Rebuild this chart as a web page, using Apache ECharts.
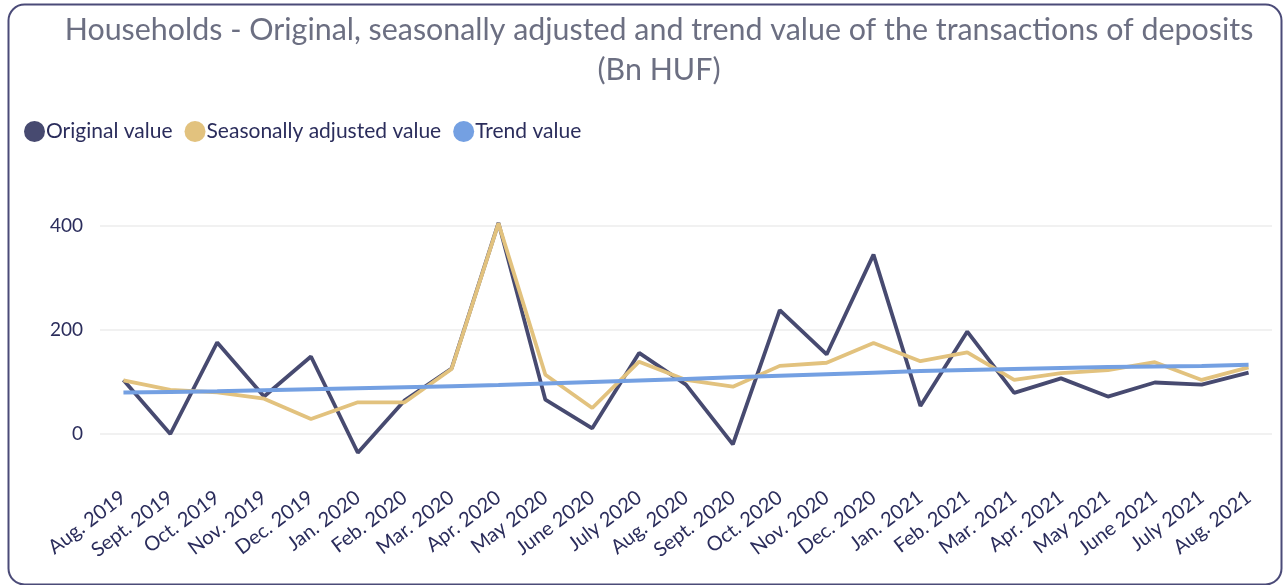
<!DOCTYPE html>
<html>
<head>
<meta charset="utf-8">
<script src="https://cdn.jsdelivr.net/npm/echarts@6/dist/echarts.min.js"></script>
<style>
html,body{margin:0;padding:0;background:#fff;}
#chart{width:1286px;height:585px;}
</style>
</head>
<body>
<div id="chart"></div>
<script>
const categories = ["Aug. 2019","Sept. 2019","Oct. 2019","Nov. 2019","Dec. 2019","Jan. 2020","Feb. 2020","Mar. 2020","Apr. 2020","May 2020","June 2020","July 2020","Aug. 2020","Sept. 2020","Oct. 2020","Nov. 2020","Dec. 2020","Jan. 2021","Feb. 2021","Mar. 2021","Apr. 2021","May 2021","June 2021","July 2021","Aug. 2021"];
const originalValue = [104, 0, 176, 72, 149, -36, 65, 126, 406, 66, 11, 156, 95, -20, 238, 153, 345, 54, 197, 79, 107, 72, 99, 95, 118];
const seasonallyAdjusted = [103, 85, 80, 68, 29, 61, 61, 125, 405, 114, 50, 139, 104, 91, 131, 137, 175, 140, 157, 104, 117, 123, 138, 104, 128];
const trendValue = [80, 81, 82, 84, 86, 88, 90, 92, 94, 97, 100, 103, 106, 109, 112, 115, 118, 121, 123, 125, 127, 129, 130, 131, 133];
const seriesNames = ["Original value", "Seasonally adjusted value", "Trend value"];
const titleText = "Households - Original, seasonally adjusted and trend value of the transactions of deposits\n(Bn HUF)";

const FONT = "Lato";
const chart = echarts.init(document.getElementById('chart'), null, {renderer: 'canvas'});
chart.setOption({
  animation: false,
  backgroundColor: '#ffffff',
  textStyle: {fontFamily: FONT},
  graphic: [{
    type: 'rect', left: 6, top: 2, silent: true,
    shape: {width: 1273, height: 580, r: 16},
    style: {fill: 'none', stroke: '#4b4b78', lineWidth: 2}
  }],
  title: {
    text: titleText,
    left: 654, top: 5,
    textAlign: 'center',
    textStyle: {fontFamily: FONT, fontSize: 30.4, fontWeight: 'normal', color: '#6c6f82', lineHeight: 40}
  },
  legend: {
    left: 19, top: 116,
    icon: 'circle', itemWidth: 21, itemHeight: 21, itemGap: 12,
    textStyle: {fontFamily: FONT, fontSize: 21, color: '#2b2d5c', padding: [0,0,0,-4]},
    data: seriesNames
  },
  grid: {left: 100, right: 14, top: 174, bottom: 99, containLabel: false},
  xAxis: {
    type: 'category', data: categories, boundaryGap: true,
    axisLine: {show: false}, axisTick: {show: false},
    axisLabel: {rotate: 37, fontFamily: FONT, fontSize: 20, color: '#2b2d5c', margin: 9, interval: 0}
  },
  yAxis: {
    type: 'value', min: -100, max: 500, splitNumber: 3,
    axisLine: {show: false}, axisTick: {show: false},
    axisLabel: {fontFamily: FONT, fontSize: 19, color: '#2b2d5c', margin: 17,
      showMinLabel: false, showMaxLabel: false,
      formatter: v => (v % 200 === 0 ? String(v) : '')},
    splitLine: {show: true, showMinLine: false, showMaxLine: false, lineStyle: {color: '#ededed', width: 1.5}}
  },
  series: [
    {name: seriesNames[0], type: 'line', data: originalValue, symbol: 'none', z: 2,
     itemStyle: {color: '#474a70'}, lineStyle: {color: '#474a70', width: 3.8}},
    {name: seriesNames[1], type: 'line', data: seasonallyAdjusted, symbol: 'none', z: 3,
     itemStyle: {color: '#e2c27e'}, lineStyle: {color: '#e2c27e', width: 3.8}},
    {name: seriesNames[2], type: 'line', data: trendValue, symbol: 'none', z: 4,
     itemStyle: {color: '#74a0e2'}, lineStyle: {color: '#74a0e2', width: 4}}
  ]
});
</script>
</body>
</html>
